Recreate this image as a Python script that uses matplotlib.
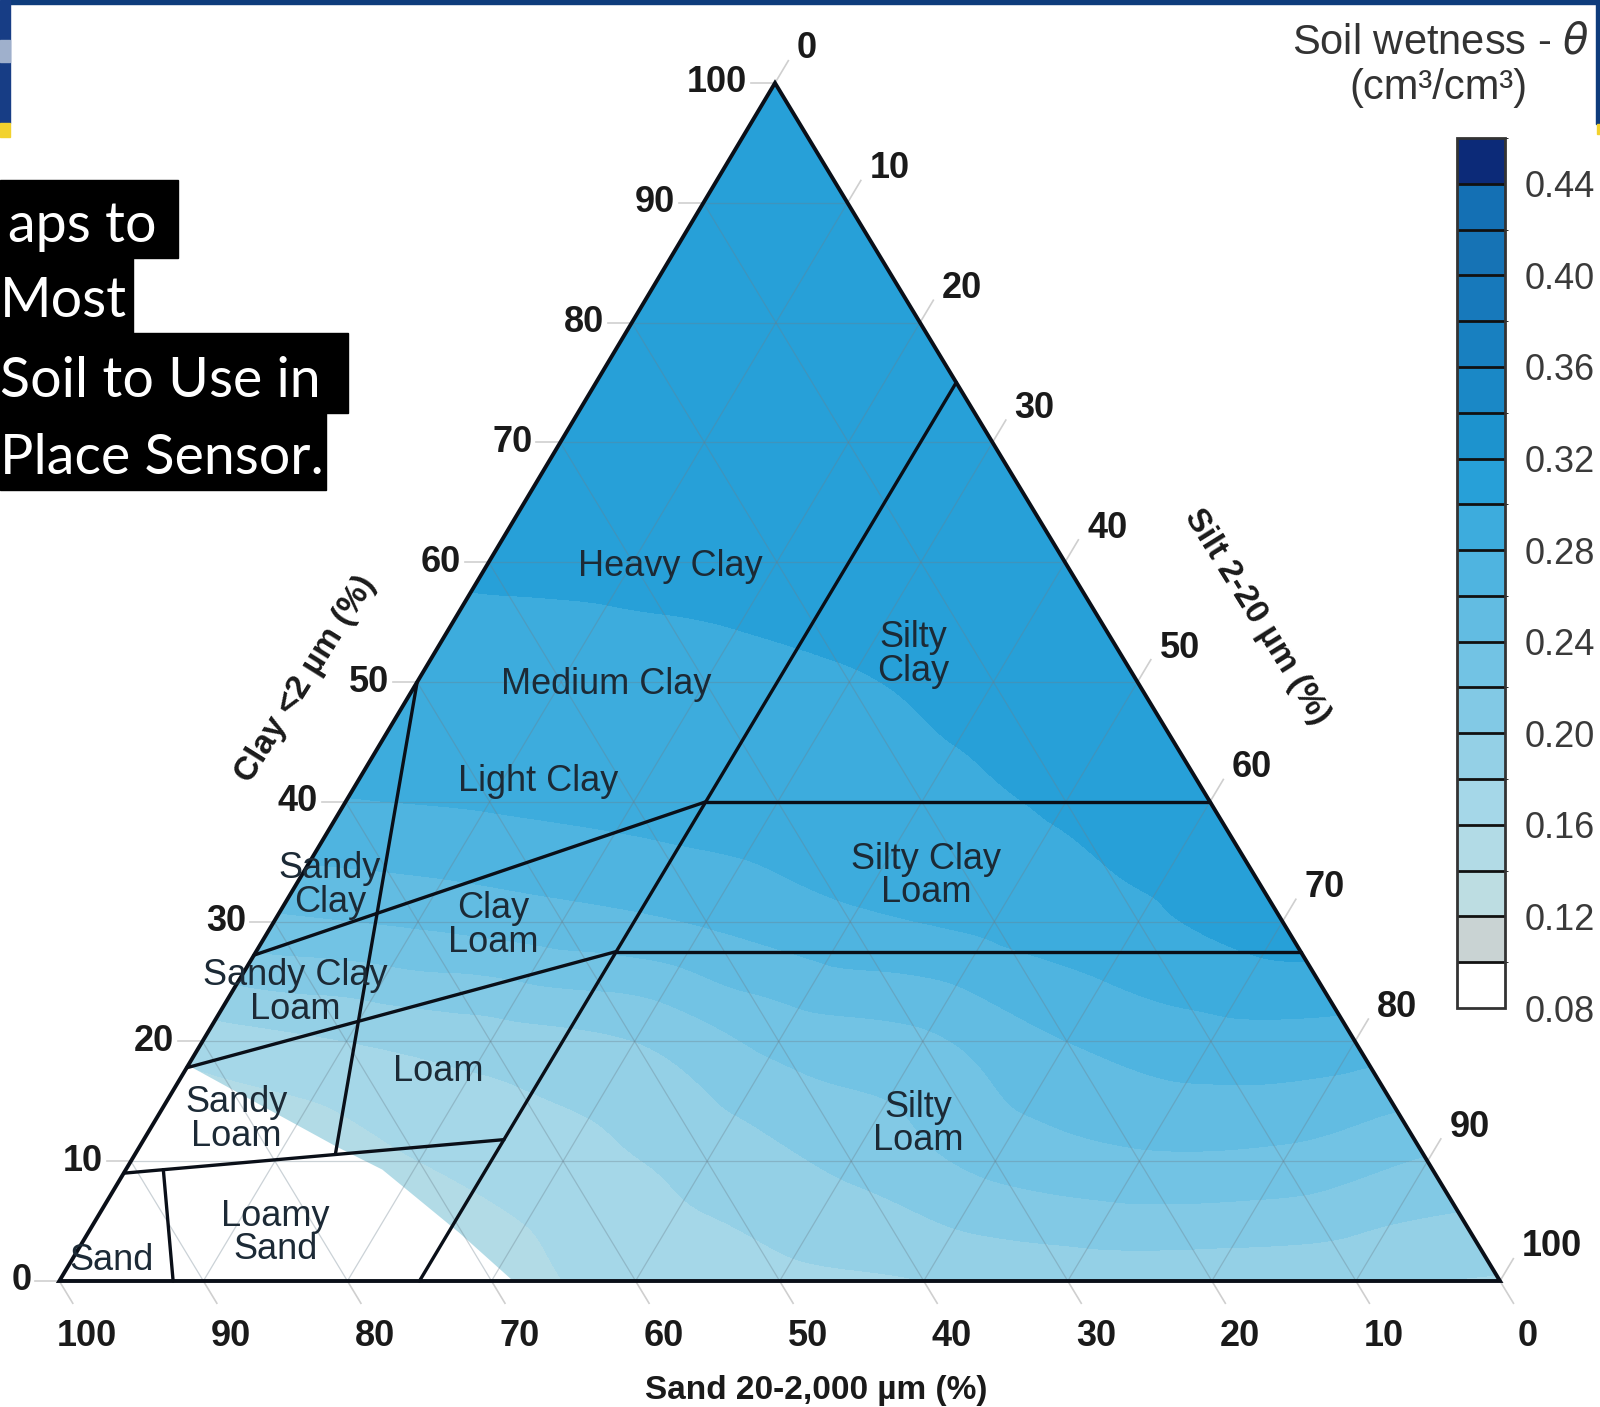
import numpy as np
import matplotlib.pyplot as plt
import matplotlib.tri as mtri
from matplotlib.colors import ListedColormap, BoundaryNorm
from matplotlib.cm import ScalarMappable
from matplotlib.patches import Rectangle, Polygon

plt.rcParams['font.family'] = ['Liberation Sans', 'DejaVu Sans']

# soil wetness (cm3/cm3) read at the ternary grid nodes
# row i -> clay = 10*i %, entries -> silt = 0, 10, 20 ... %
theta_rows = [
    [0.120, 0.130, 0.140, 0.150, 0.170, 0.175, 0.180, 0.186, 0.186, 0.183, 0.178],
    [0.130, 0.145, 0.160, 0.172, 0.187, 0.205, 0.226, 0.236, 0.234, 0.218],
    [0.170, 0.180, 0.190, 0.200, 0.226, 0.236, 0.260, 0.272, 0.270],
    [0.236, 0.243, 0.252, 0.262, 0.276, 0.285, 0.296, 0.310],
    [0.279, 0.282, 0.286, 0.290, 0.295, 0.302, 0.306],
    [0.290, 0.292, 0.295, 0.299, 0.304, 0.308],
    [0.303, 0.304, 0.306, 0.308, 0.310],
    [0.311, 0.311, 0.312, 0.312],
    [0.313, 0.313, 0.313],
    [0.314, 0.314],
    [0.315],
]

# colour scale
levels = np.round(np.arange(0.08, 0.461, 0.02), 2)
band_colors = ['#ffffff', '#c9d3d3', '#bddde2', '#b2dbe6', '#a5d7e8', '#94d0e6',
               '#82c9e5', '#72c3e4', '#62bce2', '#4fb4e0', '#3dacdd', '#27a0d8',
               '#1d93ce', '#1a88c6', '#1880c0', '#1779bb', '#1673b5', '#1470b4',
               '#0c2a78']
cbar_ticks = [0.08, 0.12, 0.16, 0.20, 0.24, 0.28, 0.32, 0.36, 0.40, 0.44]

# region without data (white), clay % / silt %
nodata_clay = [18, 11.2, 9.3, 4, 0, 0]
nodata_silt = [0, 13.7, 17.8, 25.8, 31.5, 0]

# texture class boundaries: (clay %, silt %) end points
class_lines = [
    ([0, 75], [25, 25]),
    ([40, 40], [25, 60]),
    ([27.5, 27.5], [25, 72.5]),
    ([27.2, 40], [0, 25]),
    ([17.8, 27.5], [0, 25]),
    ([9.0, 11.8], [0, 25]),
    ([50, 10.6], [0, 13.9]),
    ([9.3, 0], [2.6, 7.9]),
]

class_names = ['Heavy Clay', 'Medium Clay', 'Light Clay', 'Silty\nClay', 'Silty Clay\nLoam',
               'Silty\nLoam', 'Clay\nLoam', 'Loam', 'Sandy\nClay', 'Sandy Clay\nLoam',
               'Sandy\nLoam', 'Loamy\nSand', 'Sand']
name_clay = [59.6, 49.8, 41.7, 52.3, 33.8, 13.1, 29.7, 17.5, 33.0, 24.1, 13.5, 4.0, 1.7]
name_silt = [12.8, 13.2, 12.5, 33.3, 43.4, 53.1, 15.4, 17.6, 2.4, 4.4, 5.6, 13.0, 2.8]

ticks_pct = list(range(0, 101, 10))

# triangle corners in the picture
BL = np.array([59.3, 1281.0])
BR = np.array([1500.0, 1281.0])
TOP = np.array([775.0, 83.0])


def tern(clay, silt):
    c = np.asarray(clay, dtype=float) / 100
    t = np.asarray(silt, dtype=float) / 100
    s = 1 - c - t
    x = s * BL[0] + t * BR[0] + c * TOP[0]
    y = s * BL[1] + t * BR[1] + c * TOP[1]
    return x, y


fig = plt.figure(figsize=(16, 14.07), dpi=100)
ax = fig.add_axes([0, 0, 1, 1])
ax.set_xlim(0, 1600)
ax.set_ylim(1407, 0)
ax.axis('off')

# field
node_clay, node_silt, node_theta = [], [], []
for i, row in enumerate(theta_rows):
    for j, v in enumerate(row):
        node_clay.append(10 * i)
        node_silt.append(10 * j)
        node_theta.append(v)
nx, ny = tern(node_clay, node_silt)
triang = mtri.Triangulation(nx, ny)
interp = mtri.CubicTriInterpolator(triang, np.array(node_theta), kind='geom')
refiner = mtri.UniformTriRefiner(triang)
tri_ref, z_ref = refiner.refine_field(np.array(node_theta), triinterpolator=interp, subdiv=4)

cmap = ListedColormap(band_colors)
norm = BoundaryNorm(levels, cmap.N)
ax.tricontourf(tri_ref, z_ref, levels=levels, cmap=cmap, norm=norm, zorder=1)

wx, wy = tern(nodata_clay, nodata_silt)
ax.add_patch(Polygon(np.column_stack([wx, wy]), closed=True, fc='white', ec='none', zorder=1.5))

# grid lines inside the triangle
for v in range(10, 100, 10):
    for cl, sl in [([v, v], [0, 100 - v]), ([0, 100 - v], [v, v]), ([0, 100 - v], [100 - v, 0])]:
        gx, gy = tern(cl, sl)
        ax.plot(gx, gy, color='#6a7f8c', lw=0.9, alpha=0.35, zorder=2)

# tick stubs and labels
d_sand = (BR - TOP) / np.linalg.norm(BR - TOP)
d_silt = (TOP - BL) / np.linalg.norm(TOP - BL)
tick_font = dict(fontsize=26, fontweight='bold', color='#1a1a1a')
for v in ticks_pct:
    px, py = tern(v, 0)
    ax.plot([px, px - 24], [py, py], color='#cfcfcf', lw=1.2, zorder=2)
    ax.text(px - 28, py, str(v), ha='right', va='center', **tick_font)

    px, py = tern(0, 100 - v)
    ax.plot([px, px + 26 * d_sand[0]], [py, py + 26 * d_sand[1]], color='#cfcfcf', lw=1.2, zorder=2)
    ax.text(px + 28, py + 55, str(v), ha='center', va='center', **tick_font)

    px, py = tern(100 - v, v)
    ax.plot([px, px + 26 * d_silt[0]], [py, py + 26 * d_silt[1]], color='#cfcfcf', lw=1.2, zorder=2)
    ax.text(px + 22, py - 34, str(v), ha='left', va='center', **tick_font)

# class boundaries and outline
for cl, sl in class_lines:
    lx, ly = tern(cl, sl)
    ax.plot(lx, ly, color='#0a0f18', lw=2.4, solid_capstyle='round', zorder=3)
cx, cy = tern([100, 0, 0], [0, 0, 100])
ax.add_patch(Polygon(np.column_stack([cx, cy]), closed=True, fill=False, ec='#0a0f18',
                     lw=2.8, joinstyle='miter', zorder=4))

for name, cl, sl in zip(class_names, name_clay, name_silt):
    tx, ty = tern(cl, sl)
    ax.text(tx, ty, name, ha='center', va='center', fontsize=26, color='#1c2a36',
            linespacing=0.95, zorder=5)

axis_font = dict(fontsize=24, fontweight='bold', color='#1a1a1a', ha='center', va='center')
ax.text(306, 679, 'Clay <2 µm (%)', rotation=58, **axis_font)
ax.text(1257, 617, 'Silt 2-20 µm (%)', rotation=-58, **axis_font)
ax.text(816, 1390, 'Sand 20-2,000 µm (%)', **axis_font)

# colour bar
cax = fig.add_axes([1457 / 1600, 1 - 1008 / 1407, 48 / 1600, 870 / 1407])
cb = fig.colorbar(ScalarMappable(norm=norm, cmap=cmap), cax=cax, ticks=cbar_ticks, drawedges=True)
cb.outline.set_edgecolor('#333333')
cb.outline.set_linewidth(2)
cb.dividers.set_color('#111111')
cb.dividers.set_linewidth(2)
cax.tick_params(length=0, labelsize=26, pad=14, labelcolor='#3a3a3a')
cax.set_yticklabels(['%.2f' % t for t in cbar_ticks])

ax.text(1441, 43, r'Soil wetness - $\theta$', ha='center', va='center', fontsize=30, color='#333333')
ax.text(1438, 88, '(cm³/cm³)', ha='center', va='center', fontsize=30, color='#333333')

# slide frame and caption boxes
ax.add_patch(Rectangle((10, 0), 1590, 3.5, color='#0e3c7c', zorder=6))
ax.add_patch(Rectangle((0, 0), 10, 123, color='#173d85', zorder=6))
ax.add_patch(Rectangle((0, 40), 10, 22, color='#9fb0cc', zorder=6))
ax.add_patch(Rectangle((0, 123), 10, 14, color='#f2d22e', zorder=6))
ax.add_patch(Rectangle((1596, 0), 4, 124, color='#0e3c7c', zorder=6))
ax.add_patch(Rectangle((1597, 124), 3, 10, color='#f2d22e', zorder=6))

caption_lines = ['aps to', 'Most', 'Soil to Use in', 'Place Sensor.']
box_top = [180, 258, 333, 413]
box_bottom = [258, 333, 413, 490]
box_right = [178, 133, 348, 326]
text_x = [8, 0, 0, 0]
for txt, t0, t1, r, tx in zip(caption_lines, box_top, box_bottom, box_right, text_x):
    ax.add_patch(Rectangle((0, t0), r, t1 - t0, color='black', zorder=6))
    ax.text(tx, t1 - 16, txt, ha='left', va='baseline', fontsize=40, color='white',
            family=['Lato', 'DejaVu Sans'], zorder=7)

fig.savefig('out.png', dpi=100)
